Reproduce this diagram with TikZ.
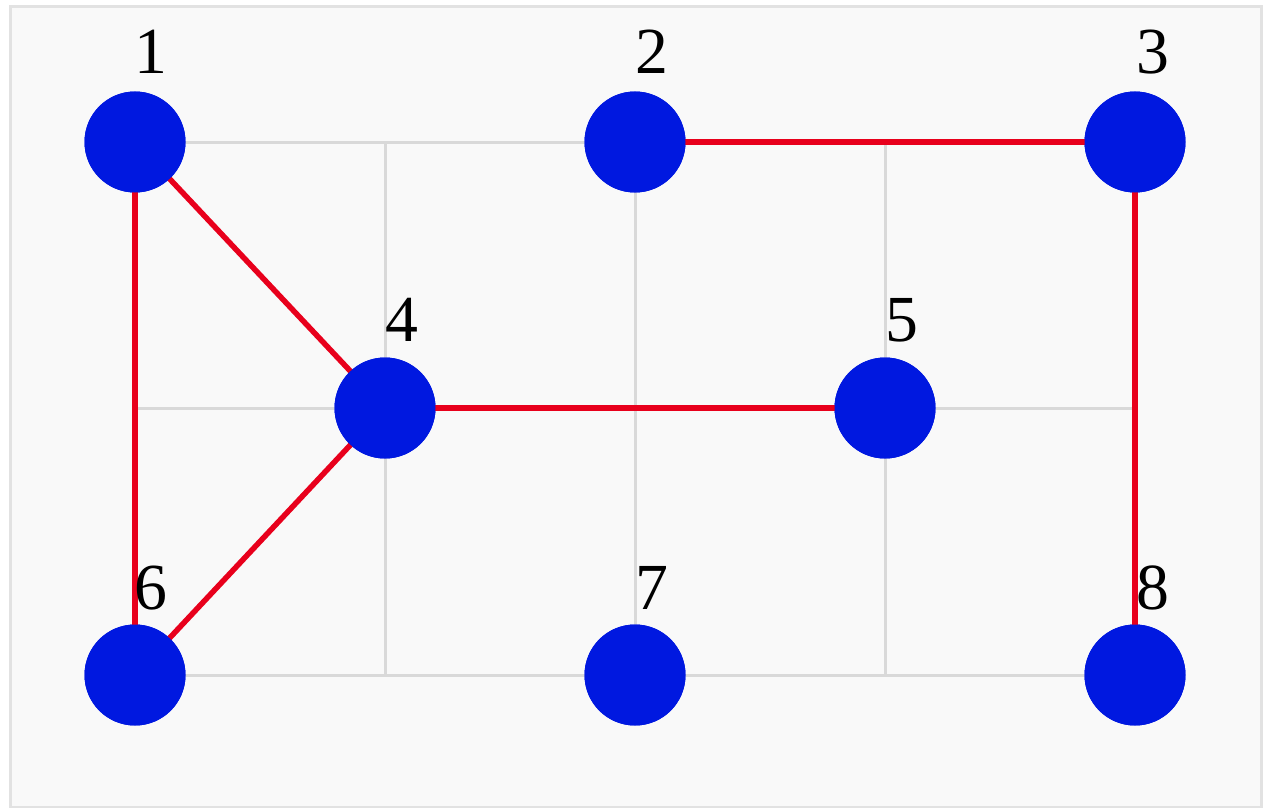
\documentclass[tikz,border=0pt]{standalone}
\usepackage{fontspec}
\setmainfont{Liberation Serif}
\definecolor{bgc}{HTML}{F9F9F9}
\definecolor{frc}{HTML}{E2E2E2}
\definecolor{gridc}{HTML}{D9D9D9}
\definecolor{edgec}{HTML}{E8001C}
\definecolor{nodec}{HTML}{0018E0}
\begin{document}
\begin{tikzpicture}[x=1bp,y=-1bp,
  vtx/.style={circle,fill=nodec,minimum size=101bp,inner sep=0pt},
  gridln/.style={draw=gridc,line width=3bp},
  edge/.style={draw=edgec,line width=5.5bp},
  lbl/.style={font=\fontsize{66}{66}\selectfont,inner sep=0pt,anchor=base}]
\useasboundingbox (0,0) rectangle (1265,808);
\fill[white] (0,0) rectangle (1265,808);
\filldraw[fill=bgc,draw=frc,line width=3bp] (10,7) rectangle (1261,807);
% grid
\coordinate (g1) at (135,142); \coordinate (g2) at (385,142); \coordinate (g3) at (635,142);
\coordinate (g4) at (885,142); \coordinate (g5) at (1135,142);
\coordinate (m1) at (135,408); \coordinate (m5) at (1135,408);
\coordinate (b1) at (135,675); \coordinate (b2) at (385,675); \coordinate (b3) at (635,675);
\coordinate (b4) at (885,675); \coordinate (b5) at (1135,675);
\path[gridln] (g1) -- (g5) (m1) -- (m5) (b1) -- (b5);
\path[gridln] (g1) -- (b1) (g2) -- (b2) (g3) -- (b3) (g4) -- (b4) (g5) -- (b5);
% nodes
\node[vtx] (n1) at (135,142) {};
\node[vtx] (n2) at (635,142) {};
\node[vtx] (n3) at (1135,142) {};
\node[vtx] (n4) at (385,408) {};
\node[vtx] (n5) at (885,408) {};
\node[vtx] (n6) at (135,675) {};
\node[vtx] (n7) at (635,675) {};
\node[vtx] (n8) at (1135,675) {};
% edges
\path[edge] (n1.center) -- (n4.center);
\path[edge] (n1.center) -- (n6.center);
\path[edge] (n4.center) -- (n6.center);
\path[edge] (n2.center) -- (n3.center);
\path[edge] (n3.center) -- (n8.center);
\path[edge] (n4.center) -- (n5.center);
% redraw nodes on top
\foreach \p in {n1,n2,n3,n4,n5,n6,n7,n8} \fill[nodec] (\p.center) circle (50.5bp);
% labels
\node[lbl] (l1) at (151,74) {1};
\node[lbl] (l2) at (652,74) {2};
\node[lbl] (l3) at (1153,74) {3};
\node[lbl] (l4) at (402,341) {4};
\node[lbl] (l5) at (902,341) {5};
\node[lbl] (l6) at (151,609) {6};
\node[lbl] (l7) at (652,609) {7};
\node[lbl] (l8) at (1153,609) {8};
\end{tikzpicture}
\end{document}
